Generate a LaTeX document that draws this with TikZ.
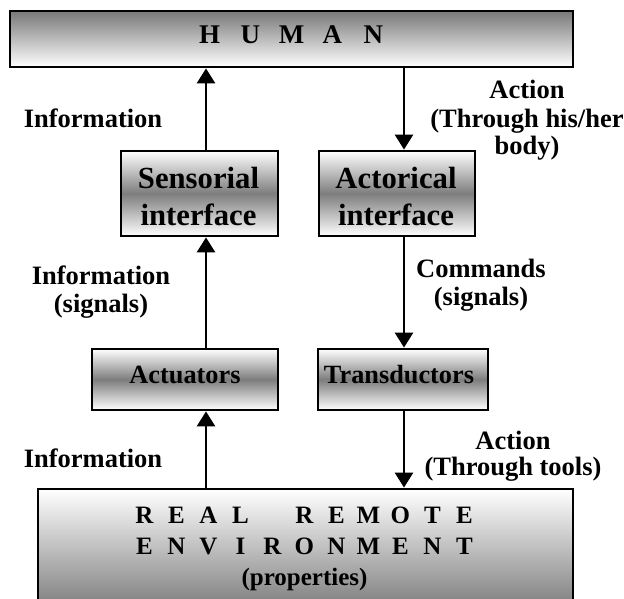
\documentclass[tikz,border=0pt]{standalone}
\usepackage{fontspec}
\setmainfont{Liberation Serif}
\usetikzlibrary{arrows.meta}
\newcommand{\lt}[2]{\makebox[#1pt][c]{#2}}
\begin{document}
\begin{tikzpicture}[x=1pt,y=-1pt,
  boxnode/.style={draw=black, line width=2.8pt, inner sep=0pt, rectangle},
  grad3/.style={top color=white, bottom color=white, middle color={rgb,255:red,125;green,125;blue,125}},
  lbl/.style={anchor=base, align=center, inner sep=0pt, font=\fontsize{26.5}{28}\selectfont\bfseries},
  boxtxt/.style={anchor=base, align=center, inner sep=0pt, font=\fontsize{30.7}{36}\selectfont\bfseries},
  smalltxt/.style={anchor=base, align=center, inner sep=0pt, font=\fontsize{26.3}{28}\selectfont\bfseries},
  envtxt/.style={anchor=base, align=center, inner sep=0pt, font=\fontsize{25}{31}\selectfont\bfseries},
  arr/.style={line width=2.7pt, -{Triangle[width=18pt,length=15pt]}}]
\useasboundingbox (0,0) rectangle (624,599);
\clip (0,0) rectangle (624,599);
% boxes
\node[boxnode, top color={rgb,255:red,120;green,120;blue,120}, bottom color=white,
  minimum width=563pt, minimum height=56pt] (human) at (291.5,39) {};
\node[boxnode, grad3, minimum width=157pt, minimum height=85pt] (sens) at (199.5,193.5) {};
\node[boxnode, grad3, minimum width=156pt, minimum height=85pt] (act) at (397,193.5) {};
\node[boxnode, grad3, minimum width=186pt, minimum height=61pt] (actu) at (185,379.5) {};
\node[boxnode, grad3, minimum width=170pt, minimum height=61pt] (trans) at (403,379.5) {};
\node[boxnode, top color=white, bottom color={rgb,255:red,132;green,132;blue,132},
  minimum width=535pt, minimum height=113pt] (env) at (305.5,545.5) {};
% box texts (anchor base = last line's baseline)
\node[font=\fontsize{27}{30}\selectfont\bfseries, anchor=base, inner sep=0pt] (humantxt) at (291.5,44)
  {\lt{41}{H}\lt{41}{U}\lt{41}{M}\lt{41}{A}\lt{41}{N}};
\node[boxtxt] (senstxt) at (198.5,225) {Sensorial\\interface};
\node[boxtxt] (acttxt) at (396,225) {Actorical\\interface};
\node[smalltxt] (actutxt) at (185,383) {Actuators};
\node[smalltxt] (transtxt) at (399,383) {Transductors};
\node[envtxt] (envtxt) at (304.5,585)
  {\lt{32}{R}\lt{32}{E}\lt{32}{A}\lt{32}{L}\lt{32}{}\lt{32}{R}\lt{32}{E}\lt{32}{M}\lt{32}{O}\lt{32}{T}\lt{32}{E}\\
   \lt{32}{E}\lt{32}{N}\lt{32}{V}\lt{32}{I}\lt{32}{R}\lt{32}{O}\lt{32}{N}\lt{32}{M}\lt{32}{E}\lt{32}{N}\lt{32}{T}\\
   (properties)};
% arrows
\coordinate (L) at (206,0);
\coordinate (R) at (404,0);
\draw[arr] (sens.north -| L) -- (human.south -| L);
\draw[arr] (actu.north -| L) -- (sens.south -| L);
\draw[arr] (env.north -| L) -- (actu.south -| L);
\draw[arr] (human.south -| R) -- (act.north -| R);
\draw[arr] (act.south -| R) -- (trans.north -| R);
\draw[arr] (trans.south -| R) -- (env.north -| R);
% labels
\node[lbl] (info1) at (93,128) {Information};
\node[lbl] (action1) at (527,155) {Action\\(Through his/her\\body)};
\node[lbl] (info2) at (101,312) {Information\\(signals)};
\node[lbl] (cmd) at (481,305) {Commands\\(signals)};
\node[lbl] (info3) at (93,467) {Information};
\node[lbl, font=\fontsize{26.5}{26}\selectfont\bfseries] (action2) at (513,475) {Action\\(Through tools)};
\end{tikzpicture}
\end{document}
